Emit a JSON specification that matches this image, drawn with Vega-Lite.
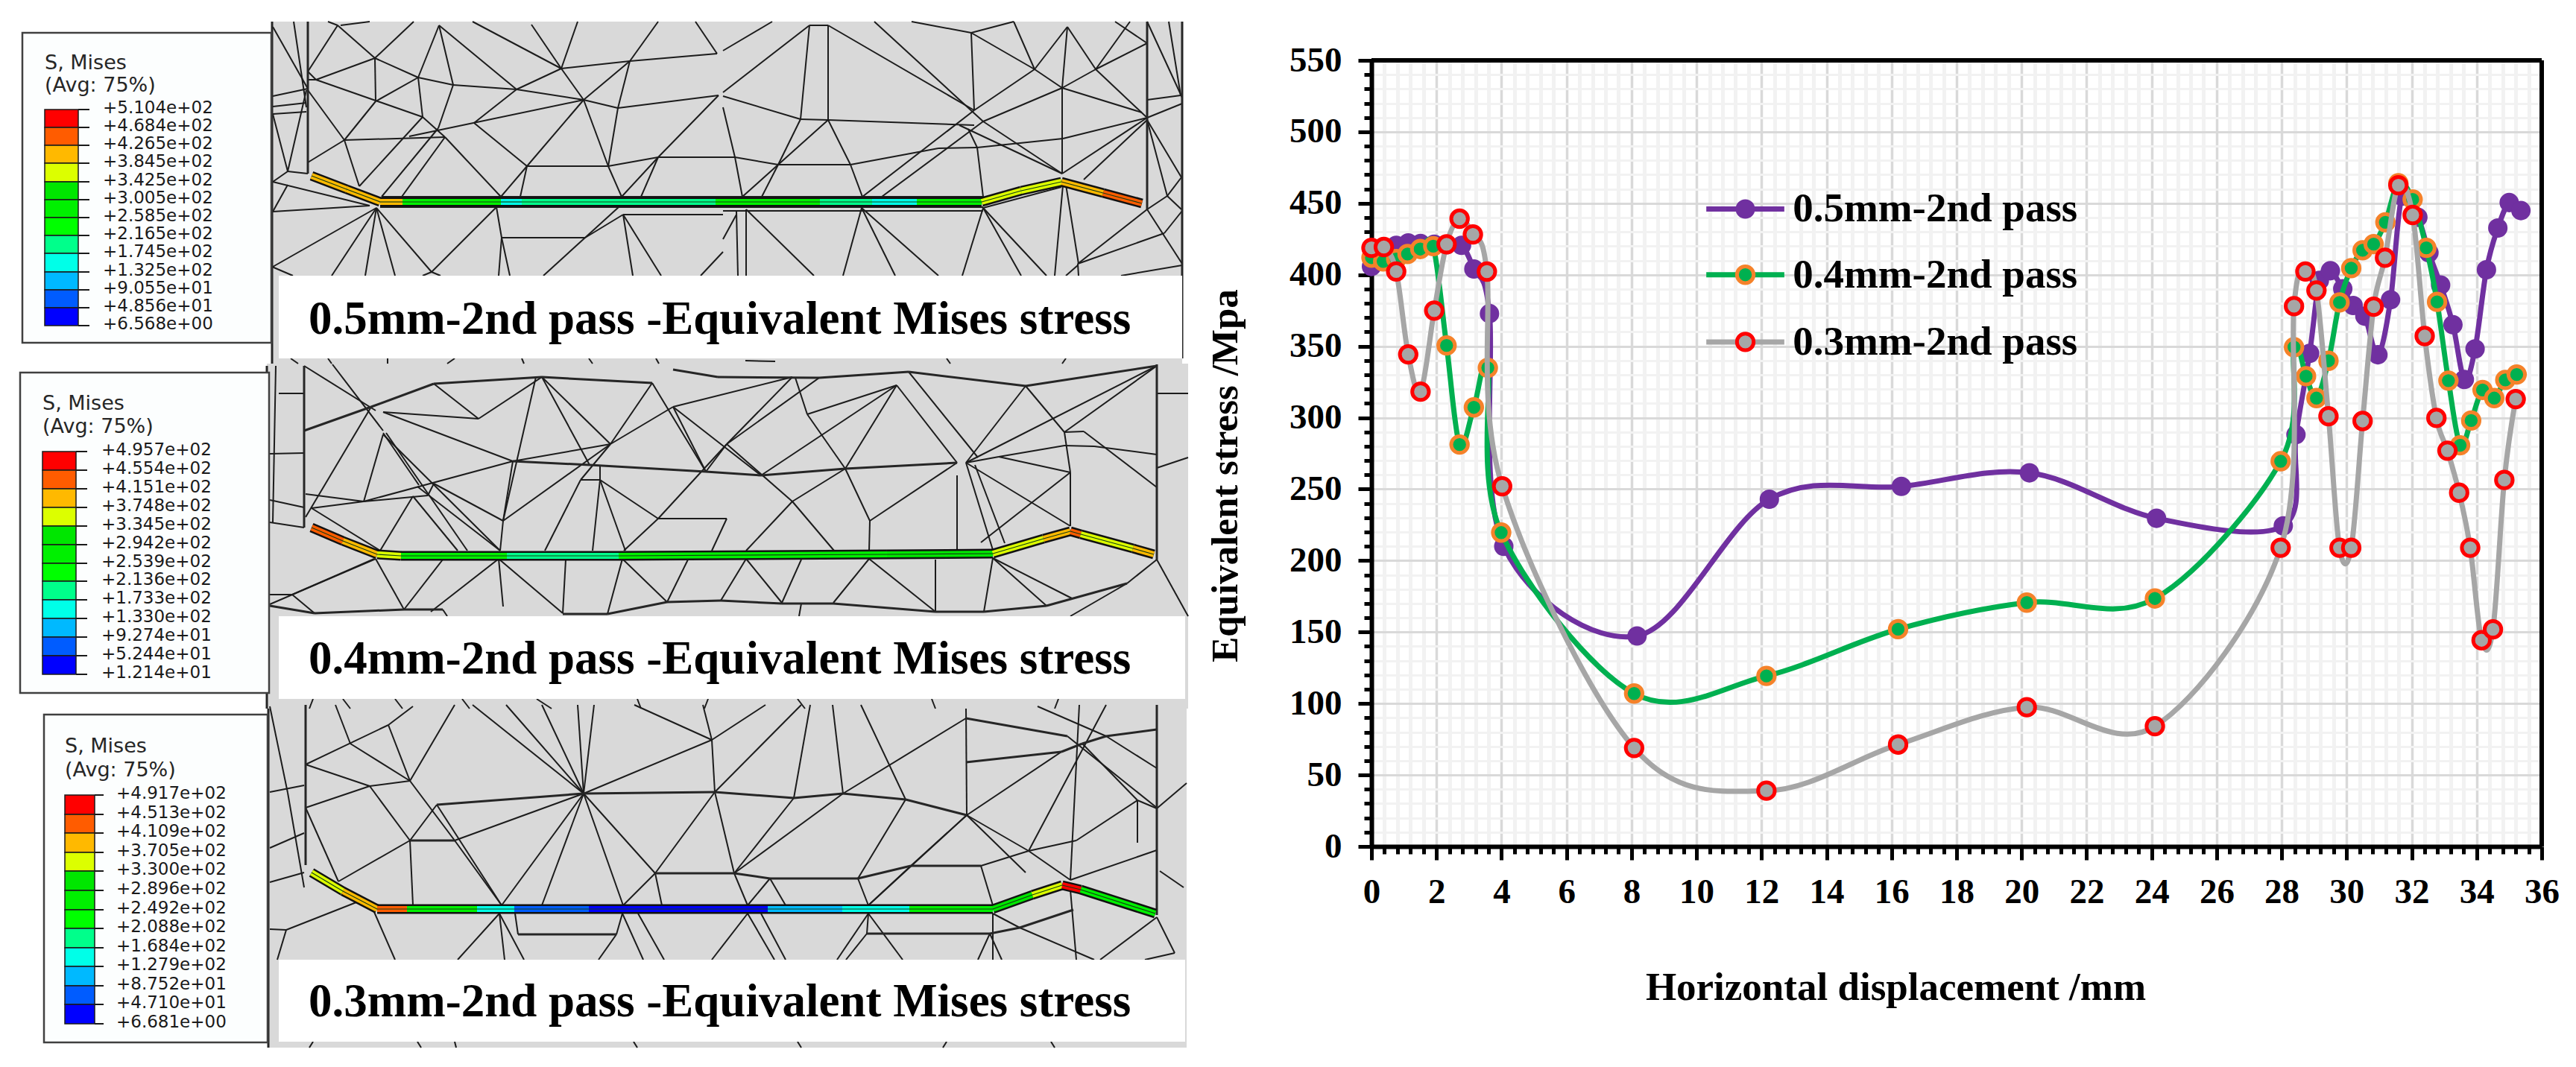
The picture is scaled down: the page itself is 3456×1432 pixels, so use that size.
{"$schema":"https://vega.github.io/schema/vega-lite/v6.json","padding":0,"background":"white","bounds":"flush","spacing":240,
"datasets":{
"sheets":[{"x1":365,"x2":1586,"y1":28,"y2":487},{"x1":358,"x2":1594,"y1":487,"y2":950},{"x1":360,"x2":1592,"y1":950,"y2":1405}],
"boxes":[{"x1":374,"x2":1586,"y1":369,"y2":480},{"x1":374,"x2":1590,"y1":826,"y2":937},{"x1":374,"x2":1590,"y1":1287,"y2":1397}],
"captions":[{"x":414,"y":447,"t":"0.5mm-2nd pass -Equivalent Mises stress"},{"x":414,"y":903,"t":"0.4mm-2nd pass -Equivalent Mises stress"},{"x":414,"y":1363,"t":"0.3mm-2nd pass -Equivalent Mises stress"}],
"legendBoxes":[{"x1":30,"x2":364,"y1":43,"y2":459},{"x1":27,"x2":361,"y1":499,"y2":929},{"x1":59,"x2":359,"y1":958,"y2":1398}],
"legendHead":[{"x":60,"y":92,"t":"S, Mises"},{"x":60,"y":122,"t":"(Avg: 75%)"},{"x":57,"y":549,"t":"S, Mises"},{"x":57,"y":580,"t":"(Avg: 75%)"},{"x":87,"y":1009,"t":"S, Mises"},{"x":87,"y":1041,"t":"(Avg: 75%)"}],
"cells":[
{"x1":60,"x2":105,"y1":146,"y2":170,"bin":12},{"x1":60,"x2":105,"y1":170,"y2":194,"bin":11},{"x1":60,"x2":105,"y1":194,"y2":218,"bin":10},{"x1":60,"x2":105,"y1":218,"y2":243,"bin":9},{"x1":60,"x2":105,"y1":243,"y2":267,"bin":8},{"x1":60,"x2":105,"y1":267,"y2":291,"bin":7},{"x1":60,"x2":105,"y1":291,"y2":315,"bin":6},{"x1":60,"x2":105,"y1":315,"y2":339,"bin":5},{"x1":60,"x2":105,"y1":339,"y2":364,"bin":4},{"x1":60,"x2":105,"y1":364,"y2":388,"bin":3},{"x1":60,"x2":105,"y1":388,"y2":412,"bin":2},{"x1":60,"x2":105,"y1":412,"y2":436,"bin":1},
{"x1":57,"x2":102,"y1":605,"y2":630,"bin":12},{"x1":57,"x2":102,"y1":630,"y2":655,"bin":11},{"x1":57,"x2":102,"y1":655,"y2":680,"bin":10},{"x1":57,"x2":102,"y1":680,"y2":705,"bin":9},{"x1":57,"x2":102,"y1":705,"y2":730,"bin":8},{"x1":57,"x2":102,"y1":730,"y2":755,"bin":7},{"x1":57,"x2":102,"y1":755,"y2":779,"bin":6},{"x1":57,"x2":102,"y1":779,"y2":804,"bin":5},{"x1":57,"x2":102,"y1":804,"y2":829,"bin":4},{"x1":57,"x2":102,"y1":829,"y2":854,"bin":3},{"x1":57,"x2":102,"y1":854,"y2":879,"bin":2},{"x1":57,"x2":102,"y1":879,"y2":904,"bin":1},
{"x1":87,"x2":127,"y1":1066,"y2":1092,"bin":12},{"x1":87,"x2":127,"y1":1092,"y2":1117,"bin":11},{"x1":87,"x2":127,"y1":1117,"y2":1143,"bin":10},{"x1":87,"x2":127,"y1":1143,"y2":1168,"bin":9},{"x1":87,"x2":127,"y1":1168,"y2":1194,"bin":8},{"x1":87,"x2":127,"y1":1194,"y2":1220,"bin":7},{"x1":87,"x2":127,"y1":1220,"y2":1245,"bin":6},{"x1":87,"x2":127,"y1":1245,"y2":1271,"bin":5},{"x1":87,"x2":127,"y1":1271,"y2":1296,"bin":4},{"x1":87,"x2":127,"y1":1296,"y2":1322,"bin":3},{"x1":87,"x2":127,"y1":1322,"y2":1347,"bin":2},{"x1":87,"x2":127,"y1":1347,"y2":1373,"bin":1}],
"scaleLabels":[
{"x0":105,"x1":120,"xl":138,"y":146,"t":"+5.104e+02"},{"x0":105,"x1":120,"xl":138,"y":170,"t":"+4.684e+02"},{"x0":105,"x1":120,"xl":138,"y":194,"t":"+4.265e+02"},{"x0":105,"x1":120,"xl":138,"y":218,"t":"+3.845e+02"},{"x0":105,"x1":120,"xl":138,"y":243,"t":"+3.425e+02"},{"x0":105,"x1":120,"xl":138,"y":267,"t":"+3.005e+02"},{"x0":105,"x1":120,"xl":138,"y":291,"t":"+2.585e+02"},{"x0":105,"x1":120,"xl":138,"y":315,"t":"+2.165e+02"},{"x0":105,"x1":120,"xl":138,"y":339,"t":"+1.745e+02"},{"x0":105,"x1":120,"xl":138,"y":364,"t":"+1.325e+02"},{"x0":105,"x1":120,"xl":138,"y":388,"t":"+9.055e+01"},{"x0":105,"x1":120,"xl":138,"y":412,"t":"+4.856e+01"},{"x0":105,"x1":120,"xl":138,"y":436,"t":"+6.568e+00"},
{"x0":102,"x1":117,"xl":136,"y":605,"t":"+4.957e+02"},{"x0":102,"x1":117,"xl":136,"y":630,"t":"+4.554e+02"},{"x0":102,"x1":117,"xl":136,"y":655,"t":"+4.151e+02"},{"x0":102,"x1":117,"xl":136,"y":680,"t":"+3.748e+02"},{"x0":102,"x1":117,"xl":136,"y":705,"t":"+3.345e+02"},{"x0":102,"x1":117,"xl":136,"y":730,"t":"+2.942e+02"},{"x0":102,"x1":117,"xl":136,"y":755,"t":"+2.539e+02"},{"x0":102,"x1":117,"xl":136,"y":779,"t":"+2.136e+02"},{"x0":102,"x1":117,"xl":136,"y":804,"t":"+1.733e+02"},{"x0":102,"x1":117,"xl":136,"y":829,"t":"+1.330e+02"},{"x0":102,"x1":117,"xl":136,"y":854,"t":"+9.274e+01"},{"x0":102,"x1":117,"xl":136,"y":879,"t":"+5.244e+01"},{"x0":102,"x1":117,"xl":136,"y":904,"t":"+1.214e+01"},
{"x0":127,"x1":139,"xl":156,"y":1066,"t":"+4.917e+02"},{"x0":127,"x1":139,"xl":156,"y":1092,"t":"+4.513e+02"},{"x0":127,"x1":139,"xl":156,"y":1117,"t":"+4.109e+02"},{"x0":127,"x1":139,"xl":156,"y":1143,"t":"+3.705e+02"},{"x0":127,"x1":139,"xl":156,"y":1168,"t":"+3.300e+02"},{"x0":127,"x1":139,"xl":156,"y":1194,"t":"+2.896e+02"},{"x0":127,"x1":139,"xl":156,"y":1220,"t":"+2.492e+02"},{"x0":127,"x1":139,"xl":156,"y":1245,"t":"+2.088e+02"},{"x0":127,"x1":139,"xl":156,"y":1271,"t":"+1.684e+02"},{"x0":127,"x1":139,"xl":156,"y":1296,"t":"+1.279e+02"},{"x0":127,"x1":139,"xl":156,"y":1322,"t":"+8.752e+01"},{"x0":127,"x1":139,"xl":156,"y":1347,"t":"+4.710e+01"},{"x0":127,"x1":139,"xl":156,"y":1373,"t":"+6.681e+00"}],
"strip":[
{"x1":418,"y1":235,"x2":465,"y2":253,"bin":10},{"x1":465,"y1":253,"x2":510,"y2":270,"bin":10},{"x1":510,"y1":270,"x2":540,"y2":270,"bin":10},{"x1":540,"y1":270,"x2":672,"y2":270,"bin":7},{"x1":672,"y1":270,"x2":700,"y2":270,"bin":4},{"x1":700,"y1":270,"x2":960,"y2":270,"bin":5},{"x1":960,"y1":270,"x2":1100,"y2":270,"bin":7},{"x1":1100,"y1":270,"x2":1170,"y2":270,"bin":5},{"x1":1170,"y1":270,"x2":1230,"y2":270,"bin":4},{"x1":1230,"y1":270,"x2":1317,"y2":270,"bin":7},{"x1":1317,"y1":270,"x2":1370,"y2":255,"bin":9},{"x1":1370,"y1":255,"x2":1424,"y2":243,"bin":9},{"x1":1424,"y1":243,"x2":1480,"y2":258,"bin":10},{"x1":1480,"y1":258,"x2":1532,"y2":272,"bin":11},
{"x1":418,"y1":707,"x2":460,"y2":725,"bin":11},{"x1":460,"y1":725,"x2":506,"y2":743,"bin":10},{"x1":506,"y1":743,"x2":538,"y2":745,"bin":9},{"x1":538,"y1":745,"x2":680,"y2":745,"bin":7},{"x1":680,"y1":745,"x2":830,"y2":745,"bin":5},{"x1":830,"y1":745,"x2":1190,"y2":743,"bin":7},{"x1":1190,"y1":743,"x2":1332,"y2":742,"bin":8},{"x1":1332,"y1":742,"x2":1400,"y2":722,"bin":9},{"x1":1400,"y1":722,"x2":1436,"y2":712,"bin":10},{"x1":1436,"y1":712,"x2":1450,"y2":716,"bin":11},{"x1":1450,"y1":716,"x2":1520,"y2":735,"bin":9},{"x1":1520,"y1":735,"x2":1548,"y2":743,"bin":10},
{"x1":418,"y1":1170,"x2":460,"y2":1195,"bin":9},{"x1":460,"y1":1195,"x2":506,"y2":1219,"bin":10},{"x1":506,"y1":1219,"x2":546,"y2":1219,"bin":11},{"x1":546,"y1":1219,"x2":640,"y2":1219,"bin":7},{"x1":640,"y1":1219,"x2":690,"y2":1219,"bin":4},{"x1":690,"y1":1219,"x2":790,"y2":1219,"bin":2},{"x1":790,"y1":1219,"x2":1030,"y2":1219,"bin":1},{"x1":1030,"y1":1219,"x2":1130,"y2":1219,"bin":3},{"x1":1130,"y1":1219,"x2":1220,"y2":1219,"bin":4},{"x1":1220,"y1":1219,"x2":1332,"y2":1219,"bin":7},{"x1":1332,"y1":1219,"x2":1385,"y2":1200,"bin":8},{"x1":1385,"y1":1200,"x2":1425,"y2":1187,"bin":9},{"x1":1425,"y1":1187,"x2":1450,"y2":1193,"bin":12},{"x1":1450,"y1":1193,"x2":1550,"y2":1225,"bin":7}],
"heavy":[
{"x1":365,"y1":28,"x2":365,"y2":487},{"x1":1586,"y1":28,"x2":1586,"y2":480},{"x1":413,"y1":28,"x2":413,"y2":232},{"x1":1539,"y1":28,"x2":1539,"y2":280},
{"x1":408,"y1":490,"x2":408,"y2":707},{"x1":1552,"y1":488,"x2":1552,"y2":750},{"x1":358,"y1":490,"x2":358,"y2":950},
{"x1":408,"y1":577,"x2":498,"y2":545},{"x1":498,"y1":545,"x2":582,"y2":514},{"x1":582,"y1":514,"x2":727,"y2":505},{"x1":727,"y1":505,"x2":875,"y2":513},{"x1":903,"y1":495,"x2":963,"y2":505},{"x1":963,"y1":505,"x2":1099,"y2":506},{"x1":1099,"y1":506,"x2":1219,"y2":498},{"x1":1219,"y1":498,"x2":1376,"y2":517},{"x1":1376,"y1":517,"x2":1552,"y2":490},
{"x1":688,"y1":618,"x2":791,"y2":623},{"x1":791,"y1":623,"x2":947,"y2":632},{"x1":947,"y1":632,"x2":1021,"y2":637},{"x1":1021,"y1":637,"x2":1134,"y2":628},{"x1":1134,"y1":628,"x2":1284,"y2":620},
{"x1":362,"y1":812,"x2":422,"y2":822},{"x1":422,"y1":822,"x2":542,"y2":817},{"x1":542,"y1":817,"x2":594,"y2":817},{"x1":755,"y1":823,"x2":815,"y2":823},{"x1":815,"y1":823,"x2":895,"y2":807},{"x1":895,"y1":807,"x2":967,"y2":805},{"x1":967,"y1":805,"x2":1049,"y2":809},{"x1":1049,"y1":809,"x2":1118,"y2":809},{"x1":1118,"y1":809,"x2":1255,"y2":820},{"x1":1255,"y1":820,"x2":1320,"y2":820},{"x1":1320,"y1":820,"x2":1404,"y2":812},{"x1":1404,"y1":812,"x2":1512,"y2":782},
{"x1":360,"y1":950,"x2":360,"y2":1405},{"x1":410,"y1":945,"x2":410,"y2":1160},{"x1":1552,"y1":945,"x2":1552,"y2":1227},
{"x1":586,"y1":1079,"x2":783,"y2":1064},{"x1":783,"y1":1064,"x2":959,"y2":1062},{"x1":959,"y1":1062,"x2":1065,"y2":1070},{"x1":1065,"y1":1070,"x2":1131,"y2":1064},{"x1":1131,"y1":1064,"x2":1215,"y2":1072},{"x1":1215,"y1":1072,"x2":1297,"y2":1093},{"x1":1296,"y1":963,"x2":1432,"y2":987},{"x1":1484,"y1":987,"x2":1552,"y2":978},{"x1":1484,"y1":987,"x2":1452,"y2":997},{"x1":1452,"y1":997,"x2":1424,"y2":1008},{"x1":1424,"y1":1008,"x2":1296,"y2":1022},{"x1":550,"y1":1127,"x2":610,"y2":1127},{"x1":879,"y1":1171,"x2":985,"y2":1171},{"x1":985,"y1":1171,"x2":1033,"y2":1178},{"x1":1033,"y1":1178,"x2":1151,"y2":1178},{"x1":1151,"y1":1178,"x2":1222,"y2":1161},{"x1":1222,"y1":1161,"x2":1316,"y2":1161},{"x1":695,"y1":1253,"x2":827,"y2":1253},{"x1":1163,"y1":1252,"x2":1328,"y2":1252},{"x1":1328,"y1":1252,"x2":1368,"y2":1244},{"x1":1368,"y1":1244,"x2":1440,"y2":1220}],
"mesh":[
{"x1":453,"y1":33,"x2":413,"y2":95},{"x1":453,"y1":33,"x2":503,"y2":77},{"x1":453,"y1":33,"x2":440,"y2":28},{"x1":457,"y1":33,"x2":496,"y2":28},{"x1":555,"y1":28,"x2":503,"y2":77},{"x1":589,"y1":33,"x2":561,"y2":103},{"x1":589,"y1":33,"x2":608,"y2":113},{"x1":589,"y1":33,"x2":693,"y2":119},{"x1":634,"y1":28,"x2":753,"y2":91},{"x1":775,"y1":28,"x2":753,"y2":91},{"x1":713,"y1":32,"x2":753,"y2":91},{"x1":883,"y1":28,"x2":845,"y2":81},{"x1":933,"y1":28,"x2":962,"y2":71},
{"x1":424,"y1":106,"x2":503,"y2":77},{"x1":503,"y1":77,"x2":504,"y2":135},{"x1":503,"y1":77,"x2":561,"y2":103},{"x1":561,"y1":103,"x2":608,"y2":113},{"x1":608,"y1":113,"x2":693,"y2":119},{"x1":693,"y1":119,"x2":783,"y2":133},{"x1":783,"y1":133,"x2":829,"y2":144},{"x1":829,"y1":144,"x2":964,"y2":127},{"x1":561,"y1":103,"x2":567,"y2":156},{"x1":561,"y1":103,"x2":504,"y2":135},{"x1":608,"y1":113,"x2":588,"y2":171},{"x1":424,"y1":106,"x2":567,"y2":156},{"x1":504,"y1":135,"x2":462,"y2":187},{"x1":413,"y1":95,"x2":424,"y2":106},{"x1":413,"y1":106,"x2":424,"y2":106},{"x1":413,"y1":120,"x2":462,"y2":187},{"x1":462,"y1":187,"x2":413,"y2":217},{"x1":462,"y1":187,"x2":482,"y2":249},{"x1":462,"y1":187,"x2":597,"y2":183},{"x1":567,"y1":156,"x2":597,"y2":183},{"x1":567,"y1":156,"x2":482,"y2":249},{"x1":588,"y1":171,"x2":512,"y2":263},{"x1":597,"y1":183,"x2":539,"y2":263},{"x1":597,"y1":183,"x2":672,"y2":263},{"x1":549,"y1":182,"x2":783,"y2":133},{"x1":636,"y1":164,"x2":693,"y2":119},{"x1":636,"y1":164,"x2":707,"y2":222},{"x1":693,"y1":119,"x2":753,"y2":91},{"x1":753,"y1":91,"x2":845,"y2":81},{"x1":845,"y1":81,"x2":962,"y2":71},{"x1":753,"y1":91,"x2":783,"y2":133},{"x1":783,"y1":133,"x2":845,"y2":81},{"x1":845,"y1":81,"x2":829,"y2":144},{"x1":829,"y1":144,"x2":816,"y2":222},{"x1":783,"y1":133,"x2":816,"y2":222},{"x1":783,"y1":133,"x2":707,"y2":222},{"x1":707,"y1":222,"x2":816,"y2":222},{"x1":816,"y1":222,"x2":883,"y2":210},{"x1":883,"y1":210,"x2":986,"y2":210},{"x1":883,"y1":210,"x2":964,"y2":127},{"x1":816,"y1":222,"x2":834,"y2":263},{"x1":883,"y1":210,"x2":834,"y2":263},{"x1":883,"y1":210,"x2":860,"y2":263},{"x1":707,"y1":222,"x2":672,"y2":263},{"x1":707,"y1":222,"x2":698,"y2":263},
{"x1":366,"y1":35,"x2":413,"y2":118},{"x1":394,"y1":28,"x2":411,"y2":143},{"x1":366,"y1":128,"x2":413,"y2":118},{"x1":366,"y1":142,"x2":411,"y2":137},{"x1":366,"y1":152,"x2":411,"y2":149},{"x1":366,"y1":152,"x2":386,"y2":229},{"x1":411,"y1":120,"x2":386,"y2":229},{"x1":386,"y1":229,"x2":413,"y2":232},{"x1":386,"y1":229,"x2":366,"y2":243},{"x1":366,"y1":243,"x2":496,"y2":275},{"x1":386,"y1":247,"x2":366,"y2":283},{"x1":366,"y1":283,"x2":496,"y2":275},
{"x1":505,"y1":278,"x2":366,"y2":357},{"x1":505,"y1":278,"x2":445,"y2":369},{"x1":505,"y1":278,"x2":490,"y2":369},{"x1":505,"y1":278,"x2":530,"y2":369},{"x1":505,"y1":278,"x2":579,"y2":364},{"x1":579,"y1":364,"x2":666,"y2":277},{"x1":579,"y1":364,"x2":591,"y2":369},{"x1":567,"y1":369,"x2":579,"y2":364},{"x1":365,"y1":357,"x2":393,"y2":369},{"x1":666,"y1":277,"x2":673,"y2":318},{"x1":673,"y1":318,"x2":669,"y2":369},{"x1":673,"y1":318,"x2":684,"y2":369},{"x1":673,"y1":318,"x2":785,"y2":318},{"x1":830,"y1":277,"x2":729,"y2":369},{"x1":836,"y1":287,"x2":849,"y2":369},{"x1":836,"y1":287,"x2":887,"y2":369},{"x1":836,"y1":287,"x2":970,"y2":287},{"x1":836,"y1":287,"x2":785,"y2":318},{"x1":970,"y1":337,"x2":940,"y2":369},
{"x1":1036,"y1":28,"x2":970,"y2":67},{"x1":1086,"y1":33,"x2":970,"y2":123},{"x1":1086,"y1":33,"x2":1111,"y2":33},{"x1":1086,"y1":33,"x2":1074,"y2":159},{"x1":1111,"y1":33,"x2":1111,"y2":160},{"x1":1111,"y1":33,"x2":1307,"y2":147},{"x1":1173,"y1":28,"x2":1319,"y2":162},{"x1":1223,"y1":28,"x2":1303,"y2":43},{"x1":1303,"y1":43,"x2":1360,"y2":28},{"x1":1303,"y1":43,"x2":1307,"y2":147},{"x1":1303,"y1":43,"x2":1388,"y2":92},{"x1":1360,"y1":28,"x2":1388,"y2":92},{"x1":1432,"y1":35,"x2":1388,"y2":92},{"x1":1432,"y1":35,"x2":1425,"y2":117},{"x1":1432,"y1":35,"x2":1470,"y2":92},{"x1":1470,"y1":92,"x2":1516,"y2":28},{"x1":1496,"y1":28,"x2":1539,"y2":57},{"x1":1470,"y1":92,"x2":1539,"y2":57},{"x1":1425,"y1":117,"x2":1470,"y2":92},{"x1":1388,"y1":92,"x2":1425,"y2":117},{"x1":1425,"y1":117,"x2":1319,"y2":162},{"x1":1388,"y1":92,"x2":1307,"y2":147},{"x1":1425,"y1":117,"x2":1425,"y2":232},{"x1":1425,"y1":117,"x2":1532,"y2":150},{"x1":1470,"y1":92,"x2":1539,"y2":157},{"x1":1539,"y1":133,"x2":1584,"y2":127},{"x1":1539,"y1":157,"x2":1586,"y2":138},{"x1":1539,"y1":28,"x2":1586,"y2":130},{"x1":1568,"y1":28,"x2":1584,"y2":127},{"x1":1539,"y1":160,"x2":1566,"y2":262},{"x1":1539,"y1":160,"x2":1585,"y2":237},{"x1":1566,"y1":262,"x2":1539,"y2":280},{"x1":1566,"y1":262,"x2":1585,"y2":280},{"x1":1585,"y1":237,"x2":1566,"y2":262},{"x1":1539,"y1":157,"x2":1426,"y2":185},{"x1":1426,"y1":185,"x2":1311,"y2":197},{"x1":1311,"y1":197,"x2":1259,"y2":198},{"x1":1259,"y1":198,"x2":1141,"y2":220},{"x1":1141,"y1":220,"x2":1044,"y2":220},{"x1":1044,"y1":220,"x2":986,"y2":210},{"x1":1074,"y1":159,"x2":1111,"y2":160},{"x1":1111,"y1":160,"x2":1307,"y2":167},{"x1":970,"y1":128,"x2":1074,"y2":159},{"x1":1074,"y1":159,"x2":1044,"y2":220},{"x1":1111,"y1":160,"x2":1044,"y2":220},{"x1":1111,"y1":160,"x2":1141,"y2":220},{"x1":1141,"y1":220,"x2":1157,"y2":263},{"x1":1044,"y1":220,"x2":1022,"y2":263},{"x1":1044,"y1":220,"x2":996,"y2":263},{"x1":986,"y1":210,"x2":996,"y2":263},{"x1":970,"y1":143,"x2":986,"y2":210},{"x1":1307,"y1":147,"x2":1157,"y2":263},{"x1":1319,"y1":162,"x2":1183,"y2":263},{"x1":1287,"y1":167,"x2":1425,"y2":232},{"x1":1311,"y1":197,"x2":1319,"y2":263},{"x1":1299,"y1":172,"x2":1311,"y2":197},{"x1":1319,"y1":162,"x2":1425,"y2":232},{"x1":1425,"y1":232,"x2":1539,"y2":157},{"x1":1454,"y1":240,"x2":1539,"y2":160},
{"x1":1319,"y1":278,"x2":1291,"y2":369},{"x1":1319,"y1":278,"x2":1370,"y2":369},{"x1":1319,"y1":278,"x2":1404,"y2":369},{"x1":1426,"y1":248,"x2":1415,"y2":369},{"x1":1430,"y1":247,"x2":1447,"y2":353},{"x1":1446,"y1":353,"x2":1539,"y2":280},{"x1":1446,"y1":353,"x2":1562,"y2":312},{"x1":1562,"y1":312,"x2":1586,"y2":282},{"x1":1539,"y1":280,"x2":1586,"y2":353},{"x1":1446,"y1":353,"x2":1447,"y2":369},{"x1":1446,"y1":355,"x2":1430,"y2":369},{"x1":1586,"y1":355,"x2":1504,"y2":369},{"x1":1319,"y1":278,"x2":1424,"y2":250},{"x1":1156,"y1":278,"x2":1131,"y2":369},{"x1":1156,"y1":278,"x2":1201,"y2":369},{"x1":1156,"y1":278,"x2":1259,"y2":369},{"x1":1001,"y1":280,"x2":1092,"y2":369},{"x1":988,"y1":283,"x2":990,"y2":369},{"x1":1001,"y1":280,"x2":1001,"y2":369},{"x1":988,"y1":287,"x2":970,"y2":320},{"x1":970,"y1":282,"x2":1319,"y2":282},
{"x1":512,"y1":263,"x2":1319,"y2":263},{"x1":510,"y1":277,"x2":1319,"y2":277},
{"x1":390,"y1":480,"x2":400,"y2":487},{"x1":440,"y1":480,"x2":445,"y2":487},{"x1":520,"y1":480,"x2":520,"y2":487},{"x1":610,"y1":480,"x2":600,"y2":487},{"x1":700,"y1":480,"x2":703,"y2":487},{"x1":790,"y1":480,"x2":795,"y2":487},{"x1":880,"y1":480,"x2":884,"y2":487},{"x1":1000,"y1":483,"x2":1040,"y2":484},{"x1":1270,"y1":480,"x2":1275,"y2":487},{"x1":1430,"y1":480,"x2":1425,"y2":487},
{"x1":408,"y1":490,"x2":504,"y2":550},{"x1":446,"y1":488,"x2":514,"y2":577},{"x1":514,"y1":552,"x2":642,"y2":561},{"x1":642,"y1":561,"x2":727,"y2":505},{"x1":514,"y1":552,"x2":688,"y2":618},{"x1":688,"y1":618,"x2":819,"y2":595},{"x1":1296,"y1":620,"x2":1340,"y2":612},{"x1":1340,"y1":612,"x2":1428,"y2":597},{"x1":1428,"y1":597,"x2":1468,"y2":598},{"x1":1468,"y1":598,"x2":1552,"y2":609},{"x1":1340,"y1":612,"x2":1436,"y2":633},{"x1":688,"y1":618,"x2":488,"y2":672},{"x1":488,"y1":672,"x2":410,"y2":662},{"x1":488,"y1":672,"x2":418,"y2":681},{"x1":488,"y1":672,"x2":574,"y2":664},{"x1":582,"y1":648,"x2":574,"y2":664},{"x1":582,"y1":514,"x2":642,"y2":561},{"x1":727,"y1":505,"x2":819,"y2":595},{"x1":719,"y1":505,"x2":675,"y2":698},{"x1":819,"y1":595,"x2":675,"y2":698},{"x1":819,"y1":595,"x2":779,"y2":643},{"x1":875,"y1":513,"x2":819,"y2":595},{"x1":903,"y1":545,"x2":819,"y2":595},{"x1":903,"y1":545,"x2":947,"y2":632},{"x1":903,"y1":545,"x2":1021,"y2":637},{"x1":903,"y1":545,"x2":1063,"y2":505},{"x1":947,"y1":632,"x2":975,"y2":595},{"x1":975,"y1":595,"x2":1063,"y2":505},{"x1":975,"y1":595,"x2":1099,"y2":506},{"x1":1021,"y1":637,"x2":1203,"y2":516},{"x1":1134,"y1":628,"x2":1083,"y2":555},{"x1":1083,"y1":555,"x2":1067,"y2":506},{"x1":1083,"y1":555,"x2":1203,"y2":516},{"x1":1134,"y1":628,"x2":1203,"y2":516},{"x1":1203,"y1":516,"x2":1284,"y2":620},{"x1":1219,"y1":498,"x2":1312,"y2":613},{"x1":1376,"y1":517,"x2":1296,"y2":620},{"x1":1376,"y1":517,"x2":1428,"y2":579},{"x1":1552,"y1":490,"x2":1428,"y2":579},{"x1":1552,"y1":490,"x2":1296,"y2":620},{"x1":1428,"y1":579,"x2":1454,"y2":578},{"x1":1428,"y1":579,"x2":1436,"y2":633},{"x1":1454,"y1":578,"x2":1552,"y2":653},{"x1":1436,"y1":633,"x2":1436,"y2":705},{"x1":1296,"y1":620,"x2":1436,"y2":705},{"x1":875,"y1":513,"x2":947,"y2":632},{"x1":791,"y1":623,"x2":727,"y2":505},{"x1":805,"y1":623,"x2":805,"y2":643},{"x1":779,"y1":643,"x2":805,"y2":643},{"x1":675,"y1":698,"x2":688,"y2":618},{"x1":675,"y1":698,"x2":671,"y2":738},{"x1":675,"y1":698,"x2":582,"y2":648},{"x1":554,"y1":665,"x2":510,"y2":738},{"x1":554,"y1":665,"x2":614,"y2":738},{"x1":560,"y1":652,"x2":671,"y2":738},{"x1":488,"y1":672,"x2":514,"y2":582},{"x1":514,"y1":582,"x2":671,"y2":738},{"x1":518,"y1":580,"x2":627,"y2":738},{"x1":514,"y1":580,"x2":562,"y2":650},{"x1":410,"y1":693,"x2":498,"y2":545},{"x1":418,"y1":681,"x2":510,"y2":738},{"x1":805,"y1":643,"x2":883,"y2":695},{"x1":779,"y1":643,"x2":731,"y2":738},{"x1":805,"y1":643,"x2":795,"y2":738},{"x1":805,"y1":643,"x2":839,"y2":738},{"x1":883,"y1":695,"x2":837,"y2":738},{"x1":883,"y1":695,"x2":975,"y2":695},{"x1":975,"y1":595,"x2":883,"y2":695},{"x1":975,"y1":595,"x2":1063,"y2":672},{"x1":1063,"y1":672,"x2":1134,"y2":628},{"x1":1063,"y1":672,"x2":1001,"y2":738},{"x1":1063,"y1":672,"x2":1119,"y2":738},{"x1":975,"y1":695,"x2":955,"y2":738},{"x1":1167,"y1":698,"x2":1166,"y2":738},{"x1":1167,"y1":698,"x2":1134,"y2":628},{"x1":1167,"y1":698,"x2":1284,"y2":620},{"x1":1284,"y1":637,"x2":1284,"y2":738},{"x1":1296,"y1":620,"x2":1332,"y2":737},{"x1":1308,"y1":623,"x2":1348,"y2":728},{"x1":1436,"y1":633,"x2":1316,"y2":727},{"x1":1552,"y1":627,"x2":1594,"y2":613},{"x1":370,"y1":490,"x2":366,"y2":700},{"x1":362,"y1":608,"x2":408,"y2":607},{"x1":374,"y1":527,"x2":408,"y2":527},{"x1":362,"y1":670,"x2":408,"y2":680},{"x1":362,"y1":700,"x2":408,"y2":707},{"x1":1552,"y1":527,"x2":1594,"y2":527},
{"x1":669,"y1":749,"x2":675,"y2":813},{"x1":504,"y1":749,"x2":542,"y2":817},{"x1":504,"y1":749,"x2":362,"y2":810},{"x1":594,"y1":750,"x2":542,"y2":817},{"x1":669,"y1":749,"x2":755,"y2":822},{"x1":669,"y1":749,"x2":578,"y2":820},{"x1":759,"y1":750,"x2":755,"y2":822},{"x1":835,"y1":749,"x2":815,"y2":823},{"x1":835,"y1":749,"x2":895,"y2":807},{"x1":923,"y1":750,"x2":895,"y2":807},{"x1":1001,"y1":749,"x2":967,"y2":805},{"x1":1001,"y1":749,"x2":1049,"y2":808},{"x1":1166,"y1":749,"x2":1118,"y2":808},{"x1":1166,"y1":749,"x2":1255,"y2":820},{"x1":1255,"y1":750,"x2":1255,"y2":820},{"x1":1332,"y1":748,"x2":1320,"y2":820},{"x1":1332,"y1":748,"x2":1404,"y2":812},{"x1":1552,"y1":750,"x2":1512,"y2":782},{"x1":1512,"y1":782,"x2":1436,"y2":826},{"x1":1438,"y1":802,"x2":1332,"y2":748},{"x1":392,"y1":797,"x2":502,"y2":749},{"x1":392,"y1":797,"x2":422,"y2":822},{"x1":1049,"y1":808,"x2":1075,"y2":750},{"x1":362,"y1":797,"x2":392,"y2":797},{"x1":1552,"y1":750,"x2":1594,"y2":826},{"x1":1075,"y1":809,"x2":1072,"y2":826},{"x1":594,"y1":817,"x2":600,"y2":826},
{"x1":420,"y1":937,"x2":415,"y2":950},{"x1":460,"y1":937,"x2":470,"y2":950},{"x1":530,"y1":937,"x2":540,"y2":950},{"x1":620,"y1":937,"x2":630,"y2":950},{"x1":720,"y1":937,"x2":740,"y2":950},{"x1":855,"y1":937,"x2":860,"y2":950},{"x1":950,"y1":937,"x2":945,"y2":950},{"x1":1070,"y1":937,"x2":1080,"y2":950},{"x1":1250,"y1":937,"x2":1255,"y2":950},{"x1":1420,"y1":937,"x2":1415,"y2":950},
{"x1":410,"y1":1025,"x2":521,"y2":972},{"x1":521,"y1":972,"x2":554,"y2":947},{"x1":450,"y1":945,"x2":470,"y2":997},{"x1":470,"y1":997,"x2":550,"y2":1047},{"x1":410,"y1":1025,"x2":496,"y2":1054},{"x1":496,"y1":1054,"x2":550,"y2":1047},{"x1":410,"y1":1083,"x2":496,"y2":1054},{"x1":496,"y1":1054,"x2":550,"y2":1127},{"x1":521,"y1":972,"x2":550,"y2":1047},{"x1":610,"y1":945,"x2":550,"y2":1047},{"x1":550,"y1":1047,"x2":610,"y2":1127},{"x1":586,"y1":1079,"x2":550,"y2":1127},{"x1":610,"y1":1127,"x2":783,"y2":1064},{"x1":783,"y1":1064,"x2":955,"y2":992},{"x1":955,"y1":992,"x2":851,"y2":945},{"x1":955,"y1":992,"x2":959,"y2":1062},{"x1":955,"y1":992,"x2":1027,"y2":945},{"x1":943,"y1":945,"x2":955,"y2":992},{"x1":783,"y1":1064,"x2":634,"y2":945},{"x1":783,"y1":1064,"x2":679,"y2":945},{"x1":783,"y1":1064,"x2":727,"y2":945},{"x1":783,"y1":1064,"x2":775,"y2":945},{"x1":783,"y1":1064,"x2":797,"y2":945},{"x1":783,"y1":1064,"x2":673,"y2":1214},{"x1":783,"y1":1064,"x2":727,"y2":1214},{"x1":783,"y1":1064,"x2":879,"y2":1171},{"x1":783,"y1":1064,"x2":836,"y2":1214},{"x1":959,"y1":1062,"x2":879,"y2":1171},{"x1":1075,"y1":945,"x2":959,"y2":1062},{"x1":959,"y1":1062,"x2":985,"y2":1171},{"x1":1065,"y1":1070,"x2":985,"y2":1171},{"x1":1087,"y1":945,"x2":1065,"y2":1070},{"x1":1117,"y1":945,"x2":1131,"y2":1064},{"x1":1155,"y1":945,"x2":1215,"y2":1072},{"x1":1296,"y1":963,"x2":1131,"y2":1064},{"x1":1296,"y1":950,"x2":1297,"y2":1093},{"x1":1131,"y1":1064,"x2":985,"y2":1171},{"x1":1215,"y1":1072,"x2":1151,"y2":1178},{"x1":1297,"y1":1093,"x2":1222,"y2":1161},{"x1":1297,"y1":1093,"x2":1165,"y2":1214},{"x1":1297,"y1":1093,"x2":1380,"y2":1141},{"x1":1297,"y1":1093,"x2":1376,"y2":1170},{"x1":1316,"y1":1161,"x2":1380,"y2":1141},{"x1":1380,"y1":1141,"x2":1444,"y2":1127},{"x1":1444,"y1":1127,"x2":1526,"y2":1073},{"x1":1526,"y1":1073,"x2":1552,"y2":1084},{"x1":1526,"y1":1073,"x2":1452,"y2":997},{"x1":1432,"y1":987,"x2":1552,"y2":1083},{"x1":1552,"y1":1030,"x2":1484,"y2":987},{"x1":1424,"y1":1008,"x2":1297,"y2":1093},{"x1":1392,"y1":947,"x2":1484,"y2":987},{"x1":1448,"y1":945,"x2":1436,"y2":1180},{"x1":1484,"y1":945,"x2":1380,"y2":1141},{"x1":1380,"y1":1141,"x2":1436,"y2":1180},{"x1":1436,"y1":1180,"x2":1552,"y2":1140},{"x1":1526,"y1":1073,"x2":1526,"y2":1130},{"x1":1552,"y1":1084,"x2":1592,"y2":1050},{"x1":1222,"y1":1161,"x2":1165,"y2":1214},{"x1":1033,"y1":1178,"x2":1003,"y2":1214},{"x1":1033,"y1":1178,"x2":1054,"y2":1214},{"x1":985,"y1":1171,"x2":1003,"y2":1214},{"x1":879,"y1":1171,"x2":836,"y2":1214},{"x1":879,"y1":1171,"x2":888,"y2":1214},{"x1":1151,"y1":1178,"x2":1165,"y2":1214},{"x1":1316,"y1":1161,"x2":1332,"y2":1214},{"x1":454,"y1":1182,"x2":550,"y2":1127},{"x1":550,"y1":1127,"x2":554,"y2":1214},{"x1":610,"y1":1127,"x2":673,"y2":1214},{"x1":586,"y1":1079,"x2":673,"y2":1214},{"x1":410,"y1":1083,"x2":454,"y2":1182},{"x1":362,"y1":1062,"x2":408,"y2":1053},{"x1":362,"y1":1137,"x2":408,"y2":1117},{"x1":362,"y1":1183,"x2":408,"y2":1170},{"x1":362,"y1":947,"x2":386,"y2":1063},{"x1":384,"y1":1247,"x2":478,"y2":1210},{"x1":362,"y1":1246,"x2":384,"y2":1247},{"x1":384,"y1":1247,"x2":372,"y2":1287},{"x1":386,"y1":1063,"x2":408,"y2":1190},
{"x1":502,"y1":1223,"x2":530,"y2":1287},{"x1":670,"y1":1225,"x2":614,"y2":1287},{"x1":670,"y1":1225,"x2":677,"y2":1287},{"x1":670,"y1":1225,"x2":703,"y2":1287},{"x1":691,"y1":1225,"x2":695,"y2":1253},{"x1":827,"y1":1253,"x2":835,"y2":1225},{"x1":827,"y1":1253,"x2":803,"y2":1287},{"x1":856,"y1":1225,"x2":891,"y2":1287},{"x1":835,"y1":1225,"x2":863,"y2":1287},{"x1":1003,"y1":1225,"x2":955,"y2":1287},{"x1":1003,"y1":1225,"x2":1039,"y2":1287},{"x1":1021,"y1":1225,"x2":1054,"y2":1287},{"x1":1165,"y1":1225,"x2":1123,"y2":1287},{"x1":1165,"y1":1225,"x2":1163,"y2":1252},{"x1":1332,"y1":1225,"x2":1368,"y2":1244},{"x1":1368,"y1":1244,"x2":1468,"y2":1287},{"x1":1328,"y1":1252,"x2":1312,"y2":1287},{"x1":1328,"y1":1252,"x2":1344,"y2":1287},{"x1":1163,"y1":1252,"x2":1135,"y2":1287},{"x1":1165,"y1":1225,"x2":1211,"y2":1287},{"x1":1436,"y1":1193,"x2":1444,"y2":1287},{"x1":1552,"y1":1230,"x2":1476,"y2":1287},{"x1":1552,"y1":1230,"x2":1576,"y2":1278},{"x1":1576,"y1":1278,"x2":1536,"y2":1287},{"x1":1556,"y1":1168,"x2":1588,"y2":1190},{"x1":1332,"y1":1225,"x2":1332,"y2":1287},
{"x1":420,"y1":1397,"x2":415,"y2":1405},{"x1":560,"y1":1397,"x2":565,"y2":1405},{"x1":610,"y1":1397,"x2":612,"y2":1405},{"x1":850,"y1":1397,"x2":855,"y2":1405},{"x1":1070,"y1":1397,"x2":1075,"y2":1405},{"x1":1270,"y1":1397,"x2":1265,"y2":1405},{"x1":1410,"y1":1397,"x2":1415,"y2":1405}],
"stress":[
{"s":"a","x":0,"y":405.8},{"s":"a","x":0.38,"y":412},{"s":"a","x":0.76,"y":420.6},{"s":"a","x":1.13,"y":422.3},{"s":"a","x":1.51,"y":421.8},{"s":"a","x":1.93,"y":421.4},{"s":"a","x":2.31,"y":421},{"s":"a","x":2.77,"y":420.6},{"s":"a","x":3.15,"y":404},{"s":"a","x":3.63,"y":372.8},{"s":"a","x":4.07,"y":210},{"s":"a","x":8.17,"y":147.3},{"s":"a","x":12.24,"y":242.9},{"s":"a","x":16.3,"y":251.9},{"s":"a","x":20.24,"y":261.4},{"s":"a","x":24.15,"y":229.6},{"s":"a","x":28.05,"y":224.3},{"s":"a","x":28.44,"y":288.1},{"s":"a","x":28.86,"y":345},{"s":"a","x":29.16,"y":396},{"s":"a","x":29.5,"y":402.8},{"s":"a","x":29.88,"y":390.2},{"s":"a","x":30.2,"y":378.5},{"s":"a","x":30.56,"y":371},{"s":"a","x":30.96,"y":344},{"s":"a","x":31.35,"y":382.5},{"s":"a","x":31.7,"y":455},{"s":"a","x":32.19,"y":440.2},{"s":"a","x":32.53,"y":415.4},{"s":"a","x":32.89,"y":392.8},{"s":"a","x":33.27,"y":365},{"s":"a","x":33.62,"y":326.7},{"s":"a","x":33.95,"y":348.1},{"s":"a","x":34.3,"y":403.5},{"s":"a","x":34.65,"y":432.7},{"s":"a","x":35,"y":450.5},{"s":"a","x":35.36,"y":444.9},
{"s":"b","x":0,"y":412},{"s":"b","x":0.36,"y":409.3},{"s":"b","x":0.76,"y":411},{"s":"b","x":1.11,"y":414.5},{"s":"b","x":1.5,"y":418},{"s":"b","x":1.9,"y":420},{"s":"b","x":2.31,"y":350.5},{"s":"b","x":2.71,"y":281.2},{"s":"b","x":3.15,"y":307.2},{"s":"b","x":3.58,"y":334.9},{"s":"b","x":3.99,"y":219.6},{"s":"b","x":8.08,"y":107},{"s":"b","x":12.15,"y":119.3},{"s":"b","x":16.2,"y":152},{"s":"b","x":20.16,"y":170.6},{"s":"b","x":24.1,"y":173.5},{"s":"b","x":27.97,"y":269.5},{"s":"b","x":28.38,"y":349.3},{"s":"b","x":28.75,"y":329},{"s":"b","x":29.07,"y":313.7},{"s":"b","x":29.44,"y":339.8},{"s":"b","x":29.78,"y":380.6},{"s":"b","x":30.14,"y":404.6},{"s":"b","x":30.49,"y":417.1},{"s":"b","x":30.83,"y":421.4},{"s":"b","x":31.19,"y":436.7},{"s":"b","x":31.59,"y":464},{"s":"b","x":32.03,"y":452.7},{"s":"b","x":32.45,"y":418.8},{"s":"b","x":32.78,"y":381},{"s":"b","x":33.13,"y":325.9},{"s":"b","x":33.49,"y":280.7},{"s":"b","x":33.83,"y":298},{"s":"b","x":34.18,"y":319.4},{"s":"b","x":34.54,"y":313.7},{"s":"b","x":34.88,"y":326.4},{"s":"b","x":35.23,"y":330.2},
{"s":"c","x":0,"y":418.8},{"s":"c","x":0.38,"y":419.4},{"s":"c","x":0.76,"y":402.3},{"s":"c","x":1.13,"y":344.3},{"s":"c","x":1.51,"y":318.2},{"s":"c","x":1.93,"y":374.9},{"s":"c","x":2.31,"y":421.3},{"s":"c","x":2.71,"y":439.2},{"s":"c","x":3.12,"y":428.2},{"s":"c","x":3.55,"y":402.2},{"s":"c","x":4.02,"y":252},{"s":"c","x":8.08,"y":68.9},{"s":"c","x":12.15,"y":39},{"s":"c","x":16.2,"y":71.3},{"s":"c","x":20.16,"y":97.4},{"s":"c","x":24.1,"y":84.1},{"s":"c","x":27.97,"y":209},{"s":"c","x":28.38,"y":378},{"s":"c","x":28.73,"y":402.3},{"s":"c","x":29.07,"y":389},{"s":"c","x":29.44,"y":301},{"s":"c","x":29.78,"y":209},{"s":"c","x":30.14,"y":209},{"s":"c","x":30.49,"y":297.7},{"s":"c","x":30.83,"y":377.6},{"s":"c","x":31.18,"y":411.9},{"s":"c","x":31.59,"y":462.6},{"s":"c","x":32.03,"y":441.8},{"s":"c","x":32.4,"y":357.1},{"s":"c","x":32.76,"y":299.8},{"s":"c","x":33.1,"y":276.9},{"s":"c","x":33.46,"y":247.5},{"s":"c","x":33.8,"y":209},{"s":"c","x":34.15,"y":144.3},{"s":"c","x":34.5,"y":151.9},{"s":"c","x":34.85,"y":256.4},{"s":"c","x":35.2,"y":313}],
"key":[{"s":"a","x1":10.3,"xm":11.5,"x2":12.7,"xt":12.96,"y":446,"t":"0.5mm-2nd pass"},{"s":"b","x1":10.3,"xm":11.5,"x2":12.7,"xt":12.96,"y":400,"t":"0.4mm-2nd pass"},{"s":"c","x1":10.3,"xm":11.5,"x2":12.7,"xt":12.96,"y":353,"t":"0.3mm-2nd pass"}],
"frame":[{"x":0,"x2":36,"y":550,"y2":550},{"x":36,"x2":36,"y":0,"y2":550}]
},
"hconcat":[
{"width":1600,"height":1432,"view":{"stroke":null},
"encoding":{"x":{"field":"x1","type":"quantitative","scale":{"domain":[0,1600],"nice":false,"zero":false},"axis":null},"y":{"field":"y1","type":"quantitative","scale":{"domain":[1432,0],"nice":false,"zero":false},"axis":null}},
"layer":[
{"data":{"name":"sheets"},"mark":{"type":"rect","color":"#d9d9d9"},"encoding":{"x2":{"field":"x2"},"y2":{"field":"y2"}}},
{"data":{"name":"mesh"},"mark":{"type":"rule","color":"#1c1c1c","strokeWidth":2},"encoding":{"x2":{"field":"x2"},"y2":{"field":"y2"}}},
{"data":{"name":"heavy"},"mark":{"type":"rule","color":"#262626","strokeWidth":3},"encoding":{"x2":{"field":"x2"},"y2":{"field":"y2"}}},
{"data":{"name":"strip"},"mark":{"type":"rule","color":"#111111","strokeWidth":13},"encoding":{"x2":{"field":"x2"},"y2":{"field":"y2"}}},
{"data":{"name":"strip"},"mark":{"type":"rule","strokeWidth":8},"encoding":{"x2":{"field":"x2"},"y2":{"field":"y2"},"color":{"field":"bin","type":"nominal","legend":null,"scale":{"domain":[1,2,3,4,5,6,7,8,9,10,11,12],"range":["#0000ff","#005cff","#00b9ff","#00ffe8","#00ff8b","#00ff00","#00f000","#00e600","#dcff00","#ffb900","#ff5c00","#ff0000"]}}}},
{"data":{"name":"strip"},"mark":{"type":"rule","color":"#143c14","strokeWidth":1.2},"encoding":{"x2":{"field":"x2"},"y2":{"field":"y2"}}},
{"data":{"name":"boxes"},"mark":{"type":"rect","color":"#ffffff"},"encoding":{"x2":{"field":"x2"},"y2":{"field":"y2"}}},
{"data":{"name":"captions"},"mark":{"type":"text","align":"left","baseline":"alphabetic","font":"Liberation Serif","fontWeight":"bold","fontSize":63,"color":"#000000"},"encoding":{"x":{"field":"x","type":"quantitative"},"y":{"field":"y","type":"quantitative"},"text":{"field":"t"}}},
{"data":{"name":"legendBoxes"},"mark":{"type":"rect","fill":"#fcfefe","stroke":"#404040","strokeWidth":2.5},"encoding":{"x2":{"field":"x2"},"y2":{"field":"y2"}}},
{"data":{"name":"legendHead"},"mark":{"type":"text","align":"left","baseline":"alphabetic","font":"DejaVu Sans","fontSize":27,"color":"#262626"},"encoding":{"x":{"field":"x","type":"quantitative"},"y":{"field":"y","type":"quantitative"},"text":{"field":"t"}}},
{"data":{"name":"cells"},"mark":{"type":"rect","stroke":"#1a1a1a","strokeWidth":1.5},"encoding":{"x2":{"field":"x2"},"y2":{"field":"y2"},"fill":{"field":"bin","type":"nominal","legend":null,"scale":{"domain":[1,2,3,4,5,6,7,8,9,10,11,12],"range":["#0000ff","#005cff","#00b9ff","#00ffe8","#00ff8b","#00ff00","#00f000","#00e600","#dcff00","#ffb900","#ff5c00","#ff0000"]}}}},
{"data":{"name":"scaleLabels"},"mark":{"type":"rule","color":"#1a1a1a","strokeWidth":2},"encoding":{"x":{"field":"x0","type":"quantitative"},"x2":{"field":"x1"},"y":{"field":"y","type":"quantitative"}}},
{"data":{"name":"scaleLabels"},"mark":{"type":"text","align":"left","baseline":"middle","font":"DejaVu Sans","fontSize":23,"dy":-2,"color":"#1a1a1a"},"encoding":{"x":{"field":"xl","type":"quantitative"},"y":{"field":"y","type":"quantitative"},"text":{"field":"t"}}}
]},
{"bounds":"flush","spacing":70,"vconcat":[
{"width":1570,"height":10,"view":{"stroke":null},"data":{"values":[{}]},"mark":{"type":"rule","opacity":0},"encoding":{}},
{"width":1570,"height":1055,"view":{"stroke":null},
"resolve":{"axis":{"x":"independent","y":"independent"}},
"layer":[
{"data":{"name":"stress"},"mark":{"type":"point","opacity":0},"encoding":{
"x":{"field":"x","type":"quantitative","scale":{"domain":[0,36],"nice":false,"zero":false},"axis":{"orient":"bottom","title":null,"labels":false,"domain":false,"values":[0.4,0.8,1.2,1.6,2.4,2.8,3.2,3.6,4.4,4.8,5.2,5.6,6.4,6.8,7.2,7.6,8.4,8.8,9.2,9.6,10.4,10.8,11.2,11.6,12.4,12.8,13.2,13.6,14.4,14.8,15.2,15.6,16.4,16.8,17.2,17.6,18.4,18.8,19.2,19.6,20.4,20.8,21.2,21.6,22.4,22.8,23.2,23.6,24.4,24.8,25.2,25.6,26.4,26.8,27.2,27.6,28.4,28.8,29.2,29.6,30.4,30.8,31.2,31.6,32.4,32.8,33.2,33.6,34.4,34.8,35.2,35.6],"tickColor":"#000000","tickSize":10,"tickWidth":5,"grid":true,"gridColor":"#f2f2f2","gridWidth":5}},
"y":{"field":"y","type":"quantitative","scale":{"domain":[0,550],"nice":false,"zero":false},"axis":{"orient":"left","title":null,"labels":false,"domain":false,"values":[10,20,30,40,60,70,80,90,110,120,130,140,160,170,180,190,210,220,230,240,260,270,280,290,310,320,330,340,360,370,380,390,410,420,430,440,460,470,480,490,510,520,530,540],"tickColor":"#000000","tickSize":10,"tickWidth":5,"grid":true,"gridColor":"#f2f2f2","gridWidth":3}}}},
{"data":{"name":"frame"},"mark":{"type":"rule","color":"#000000","strokeWidth":6},"encoding":{"x":{"field":"x","type":"quantitative","axis":null},"x2":{"field":"x2"},"y":{"field":"y","type":"quantitative","axis":null},"y2":{"field":"y2"}}},
{"data":{"name":"stress"},"transform":[{"filter":"datum.s==='a'"}],"mark":{"type":"line","color":"#7030a0","strokeWidth":7,"interpolate":"cardinal","tension":0},"encoding":{
"x":{"field":"x","type":"quantitative","axis":{"orient":"bottom","title":"Horizontal displacement /mm","titleFont":"Liberation Serif","titleFontWeight":"bold","titleFontSize":53,"titleColor":"#000000","titleX":703,"titleY":163,"titleAnchor":"middle","titleAlign":"center","labelFont":"Liberation Serif","labelFontWeight":"bold","labelFontSize":47,"labelColor":"#000000","labelPadding":20,"labelOverlap":false,"labelFlush":false,"labelBound":false,"values":[0,2,4,6,8,10,12,14,16,18,20,22,24,26,28,30,32,34,36],"tickColor":"#000000","tickSize":18,"tickWidth":5,"domainColor":"#000000","domainWidth":6,"grid":true,"gridColor":"#d9d9d9","gridWidth":3.5}},
"y":{"field":"y","type":"quantitative","axis":{"orient":"left","title":"Equivalent stress /Mpa","titleFont":"Liberation Serif","titleFontWeight":"bold","titleFontSize":51,"titleColor":"#000000","titleX":-170,"titleY":557,"titleAnchor":"middle","titleAlign":"center","labelFont":"Liberation Serif","labelFontWeight":"bold","labelFontSize":47,"labelColor":"#000000","labelPadding":22,"labelOverlap":false,"labelFlush":false,"labelBound":false,"values":[0,50,100,150,200,250,300,350,400,450,500,550],"tickColor":"#000000","tickSize":18,"tickWidth":5,"domainColor":"#000000","domainWidth":6,"grid":true,"gridColor":"#d9d9d9","gridWidth":3}}}},
{"data":{"name":"stress"},"transform":[{"filter":"datum.s==='a'"}],"mark":{"type":"circle","color":"#7030a0","size":680,"opacity":1},"encoding":{"x":{"field":"x","type":"quantitative","axis":null},"y":{"field":"y","type":"quantitative","axis":null}}},
{"data":{"name":"stress"},"transform":[{"filter":"datum.s==='b'"}],"mark":{"type":"line","color":"#00b050","strokeWidth":7,"interpolate":"cardinal","tension":0},"encoding":{"x":{"field":"x","type":"quantitative","axis":null},"y":{"field":"y","type":"quantitative","axis":null}}},
{"data":{"name":"stress"},"transform":[{"filter":"datum.s==='b'"}],"mark":{"type":"circle","fill":"#00b050","stroke":"#f5822a","strokeWidth":5,"size":500,"opacity":1},"encoding":{"x":{"field":"x","type":"quantitative","axis":null},"y":{"field":"y","type":"quantitative","axis":null}}},
{"data":{"name":"stress"},"transform":[{"filter":"datum.s==='c'"}],"mark":{"type":"line","color":"#a6a6a6","strokeWidth":7,"interpolate":"cardinal","tension":0},"encoding":{"x":{"field":"x","type":"quantitative","axis":null},"y":{"field":"y","type":"quantitative","axis":null}}},
{"data":{"name":"stress"},"transform":[{"filter":"datum.s==='c'"}],"mark":{"type":"circle","fill":"#a6a6a6","stroke":"#ff0000","strokeWidth":5,"size":500,"opacity":1},"encoding":{"x":{"field":"x","type":"quantitative","axis":null},"y":{"field":"y","type":"quantitative","axis":null}}},
{"data":{"name":"key"},"transform":[{"filter":"datum.s==='a'"}],"mark":{"type":"rule","color":"#7030a0","strokeWidth":7},"encoding":{"x":{"field":"x1","type":"quantitative","axis":null},"x2":{"field":"x2"},"y":{"field":"y","type":"quantitative","axis":null}}},
{"data":{"name":"key"},"transform":[{"filter":"datum.s==='b'"}],"mark":{"type":"rule","color":"#00b050","strokeWidth":7},"encoding":{"x":{"field":"x1","type":"quantitative","axis":null},"x2":{"field":"x2"},"y":{"field":"y","type":"quantitative","axis":null}}},
{"data":{"name":"key"},"transform":[{"filter":"datum.s==='c'"}],"mark":{"type":"rule","color":"#a6a6a6","strokeWidth":7},"encoding":{"x":{"field":"x1","type":"quantitative","axis":null},"x2":{"field":"x2"},"y":{"field":"y","type":"quantitative","axis":null}}},
{"data":{"name":"key"},"transform":[{"filter":"datum.s==='a'"}],"mark":{"type":"circle","color":"#7030a0","size":680,"opacity":1},"encoding":{"x":{"field":"xm","type":"quantitative","axis":null},"y":{"field":"y","type":"quantitative","axis":null}}},
{"data":{"name":"key"},"transform":[{"filter":"datum.s==='b'"}],"mark":{"type":"circle","fill":"#00b050","stroke":"#f5822a","strokeWidth":5,"size":500,"opacity":1},"encoding":{"x":{"field":"xm","type":"quantitative","axis":null},"y":{"field":"y","type":"quantitative","axis":null}}},
{"data":{"name":"key"},"transform":[{"filter":"datum.s==='c'"}],"mark":{"type":"circle","fill":"#a6a6a6","stroke":"#ff0000","strokeWidth":5,"size":500,"opacity":1},"encoding":{"x":{"field":"xm","type":"quantitative","axis":null},"y":{"field":"y","type":"quantitative","axis":null}}},
{"data":{"name":"key"},"mark":{"type":"text","align":"left","baseline":"middle","font":"Liberation Serif","fontWeight":"bold","fontSize":55,"color":"#000000"},"encoding":{"x":{"field":"xt","type":"quantitative","axis":null},"y":{"field":"y","type":"quantitative","axis":null},"text":{"field":"t"}}}
]}
]}
]}
